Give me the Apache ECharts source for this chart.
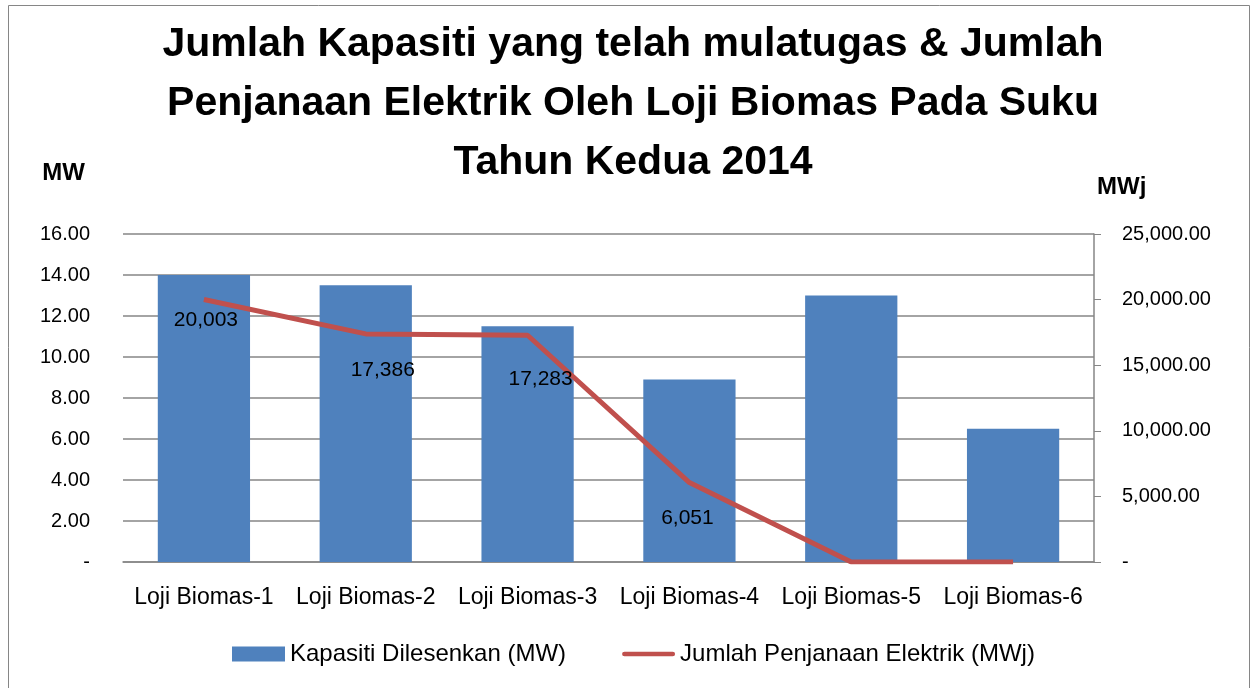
<!DOCTYPE html>
<html>
<head>
<meta charset="utf-8">
<script src="https://cdn.jsdelivr.net/npm/echarts@6/dist/echarts.min.js"></script>
<style>
  html, body { margin: 0; padding: 0; background: #fff; }
  #chart { width: 1253px; height: 688px; }
</style>
</head>
<body>
<div id="chart"></div>
<script>
var categories = ['Loji Biomas-1', 'Loji Biomas-2', 'Loji Biomas-3', 'Loji Biomas-4', 'Loji Biomas-5', 'Loji Biomas-6']
var kapasiti = [14.0, 13.5, 11.5, 8.9, 13.0, 6.5]
var penjanaan = [20003, 17386, 17283, 6051, 0, 0]

// nudges for the data labels, the way Excel placed them
var labelShift = [[2, 0], [17, 16], [13, 23], [-2, 15], [0, 0], [0, 0]]

var font = 'Liberation Sans'

function fmtLeft(v) {
  return v === 0 ? '-' : v.toFixed(2)
}
function fmtRight(v) {
  if (v === 0) return '-'
  return v.toLocaleString('en-US', { minimumFractionDigits: 2, maximumFractionDigits: 2 })
}

var lineData = penjanaan.map(function (v, i) {
  return { value: v, label: { offset: labelShift[i] } }
})

var chart = echarts.init(document.getElementById('chart'))
chart.setOption({
  animation: false,
  textStyle: { fontFamily: font },
  graphic: [{
    type: 'rect',
    shape: { x: 8.5, y: 5.5, width: 1241, height: 700 },
    style: { fill: 'none', stroke: '#868686', lineWidth: 1 }
  }],
  title: {
    text: 'Jumlah Kapasiti yang telah mulatugas & Jumlah\nPenjanaan Elektrik Oleh Loji Biomas Pada Suku\nTahun Kedua 2014',
    left: 628,
    textAlign: 'center',
    top: 10,
    textStyle: {
      fontFamily: font,
      fontSize: 41,
      fontWeight: 'bold',
      color: '#000',
      lineHeight: 59
    }
  },
  legend: {
    top: 642,
    left: 232,
    padding: 0,
    itemWidth: 53,
    itemHeight: 15,
    itemGap: 56,
    textStyle: { fontSize: 24, color: '#000' },
    data: [
      { name: 'Kapasiti Dilesenkan (MW)', icon: 'rect' },
      {
        name: 'Jumlah Penjanaan Elektrik (MWj)',
        icon: 'path://M2.5,0 L53.5,0 A2.5,2.5 0 0 1 53.5,5 L2.5,5 A2.5,2.5 0 0 1 2.5,0 Z'
      }
    ]
  },
  grid: {
    left: 123,
    right: 159,
    top: 234,
    bottom: 126
  },
  xAxis: {
    type: 'category',
    data: categories,
    axisLine: { lineStyle: { color: '#868686', width: 1.5 } },
    axisTick: { show: false },
    axisLabel: { color: '#000', fontSize: 23, margin: 24, interval: 0 }
  },
  yAxis: [{
    type: 'value',
    name: 'MW',
    nameLocation: 'end',
    nameGap: 49,
    nameTextStyle: { fontSize: 24, fontWeight: 'bold', color: '#000', align: 'right', padding: [0, 38, 0, 0] },
    min: 0,
    max: 16,
    interval: 2,
    axisLine: { show: false },
    axisTick: { show: false },
    axisLabel: { color: '#000', fontSize: 20, margin: 33, formatter: fmtLeft },
    splitLine: { lineStyle: { color: '#868686', width: 1.5 } }
  }, {
    type: 'value',
    name: 'MWj',
    nameLocation: 'end',
    nameGap: 35,
    nameTextStyle: { fontSize: 24, fontWeight: 'bold', color: '#000', align: 'left', padding: [0, 0, 0, 3] },
    min: 0,
    max: 25000,
    interval: 5000,
    axisLine: { show: true, lineStyle: { color: '#868686', width: 1.5 } },
    axisTick: { show: true, length: 7, lineStyle: { color: '#868686' } },
    axisLabel: { color: '#000', fontSize: 20, margin: 28, formatter: fmtRight },
    splitLine: { show: false }
  }],
  series: [{
    name: 'Kapasiti Dilesenkan (MW)',
    type: 'bar',
    data: kapasiti,
    barCategoryGap: '43%',
    itemStyle: { color: '#4F81BD' }
  }, {
    name: 'Jumlah Penjanaan Elektrik (MWj)',
    type: 'line',
    yAxisIndex: 1,
    data: lineData,
    symbol: 'circle',
    symbolSize: 0.1,
    showSymbol: true,
    lineStyle: { color: '#C0504D', width: 5 },
    itemStyle: { color: '#C0504D' },
    label: {
      show: true,
      position: 'bottom',
      distance: 10,
      color: '#000',
      fontSize: 21,
      formatter: function (p) {
        return p.value === 0 ? '' : p.value.toLocaleString('en-US')
      }
    }
  }]
})
</script>
</body>
</html>
